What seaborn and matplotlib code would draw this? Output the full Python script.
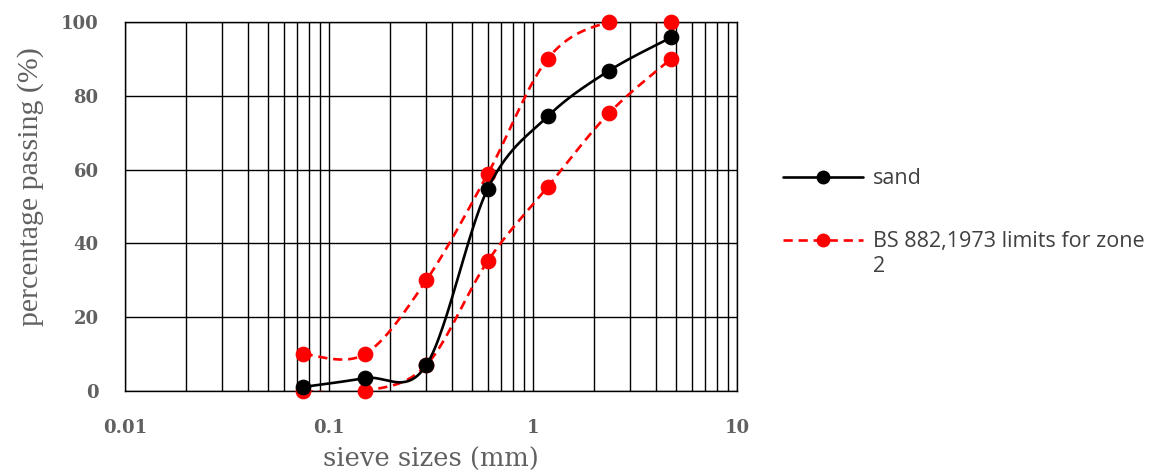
import numpy as np
import pandas as pd
import matplotlib
matplotlib.use("Agg")
import matplotlib.pyplot as plt
from matplotlib.lines import Line2D
from matplotlib.ticker import LogLocator, FixedLocator, NullFormatter
import seaborn as sns

# sieve analysis data
sieve = [0.075, 0.15, 0.3, 0.6, 1.18, 2.36, 4.75]
sand = [1.1, 3.5, 7.0, 54.8, 74.4, 86.8, 95.8]
upper = [10.0, 10.0, 30.0, 58.8, 90.0, 100.0, 100.0]
lower = [0.0, 0.0, 7.0, 35.2, 55.3, 75.3, 90.0]

y_ticks = [0, 20, 40, 60, 80, 100]
x_ticks = [0.01, 0.1, 1, 10]
x_tick_labels = ["0.01", "0.1", "1", "10"]


def smooth(xs, ys, n=30):
    # Excel-like smoothed line (Catmull-Rom in log-x space)
    lx = np.log10(xs)
    pts = np.column_stack([lx, ys])
    pts = np.vstack([pts[0], pts, pts[-1]])
    out = []
    for i in range(1, len(pts) - 2):
        p0, p1, p2, p3 = pts[i - 1], pts[i], pts[i + 1], pts[i + 2]
        c1 = p1 + (p2 - p0) / 6
        c2 = p2 - (p3 - p1) / 6
        t = np.linspace(0, 1, n)[:, None]
        seg = ((1 - t) ** 3 * p1 + 3 * (1 - t) ** 2 * t * c1
               + 3 * (1 - t) * t ** 2 * c2 + t ** 3 * p2)
        out.append(seg if i == 1 else seg[1:])
    out = np.vstack(out)
    return pd.DataFrame({"x": 10 ** out[:, 0], "y": out[:, 1]})


sns.set_style("white")
plt.rcParams["font.family"] = ["Liberation Serif", "DejaVu Serif"]

fig = plt.figure(figsize=(11.7, 4.73), dpi=100)
ax = fig.add_axes([0.1068, 0.1734, 0.5231, 0.7801])

red = "#FF0000"
dash = (3.5, 2.2)
for vals in (upper, lower):
    sns.lineplot(data=smooth(sieve, vals), x="x", y="y", sort=False,
                 color=red, lw=1.9, ax=ax, zorder=3).lines[-1].set_dashes(dash)
    sns.scatterplot(x=sieve, y=vals, color=red, s=110, edgecolor=red,
                    ax=ax, zorder=4, clip_on=False)

sns.lineplot(data=smooth(sieve, sand), x="x", y="y", sort=False,
             color="black", lw=1.9, ax=ax, zorder=5)
sns.scatterplot(x=sieve, y=sand, color="black", s=110, edgecolor="black",
                ax=ax, zorder=6, clip_on=False)

ax.set_xscale("log")
ax.set_xlim(0.01, 10)
ax.set_ylim(0, 100)
ax.xaxis.set_major_locator(FixedLocator(x_ticks))
ax.set_xticklabels(x_tick_labels)
ax.xaxis.set_minor_locator(LogLocator(base=10, subs=np.arange(2, 10)))
ax.xaxis.set_minor_formatter(NullFormatter())
ax.set_yticks(y_ticks)

ax.grid(True, which="both", axis="x", color="black", lw=1)
ax.grid(True, which="major", axis="y", color="black", lw=1)
ax.set_axisbelow(True)
for sp in ax.spines.values():
    sp.set_color("black")
    sp.set_linewidth(1)

ax.tick_params(axis="both", which="major", direction="out", length=6,
               width=1, color="black", labelcolor="#606060", labelsize=13)
ax.tick_params(axis="x", which="minor", length=0)
ax.tick_params(axis="x", pad=14)
ax.tick_params(axis="y", pad=13)
for lab in ax.get_xticklabels() + ax.get_yticklabels():
    lab.set_family("DejaVu Serif")
    lab.set_fontweight("bold")

ax.set_xlabel("sieve sizes (mm)", fontsize=18.5, color="#606060",
              family="DejaVu Serif")
ax.xaxis.set_label_coords(0.5, -0.185)
ax.xaxis.label.set_va("center")
ax.set_ylabel("percentage passing (%)", fontsize=21.5, color="#606060")
ax.yaxis.set_label_coords(-0.155, 0.555)
ax.yaxis.label.set_va("center")

handles = [
    Line2D([], [], color="black", lw=1.9, marker="o", markersize=9),
    Line2D([], [], color=red, lw=1.9, ls=(0, dash), marker="o", markersize=9),
]
labels = ["sand", "BS 882,1973 limits for zone"]
leg_font = {"family": "Open Sans", "size": 15.5}
leg = fig.legend(handles, labels, loc="upper left", bbox_to_anchor=(0.653, 0.685),
                 frameon=False, handlelength=3.7, handletextpad=0.45,
                 labelspacing=1.95, prop=leg_font, labelcolor="#404040")

# wrapped second line of the legend label, as in the original
fig.canvas.draw()
bb = leg.get_texts()[1].get_window_extent().transformed(fig.transFigure.inverted())
fig.text(bb.x0, bb.y0 - 0.008, "2", ha="left", va="top", color="#404040",
         **leg_font)

fig.savefig("out.png", dpi=100)
